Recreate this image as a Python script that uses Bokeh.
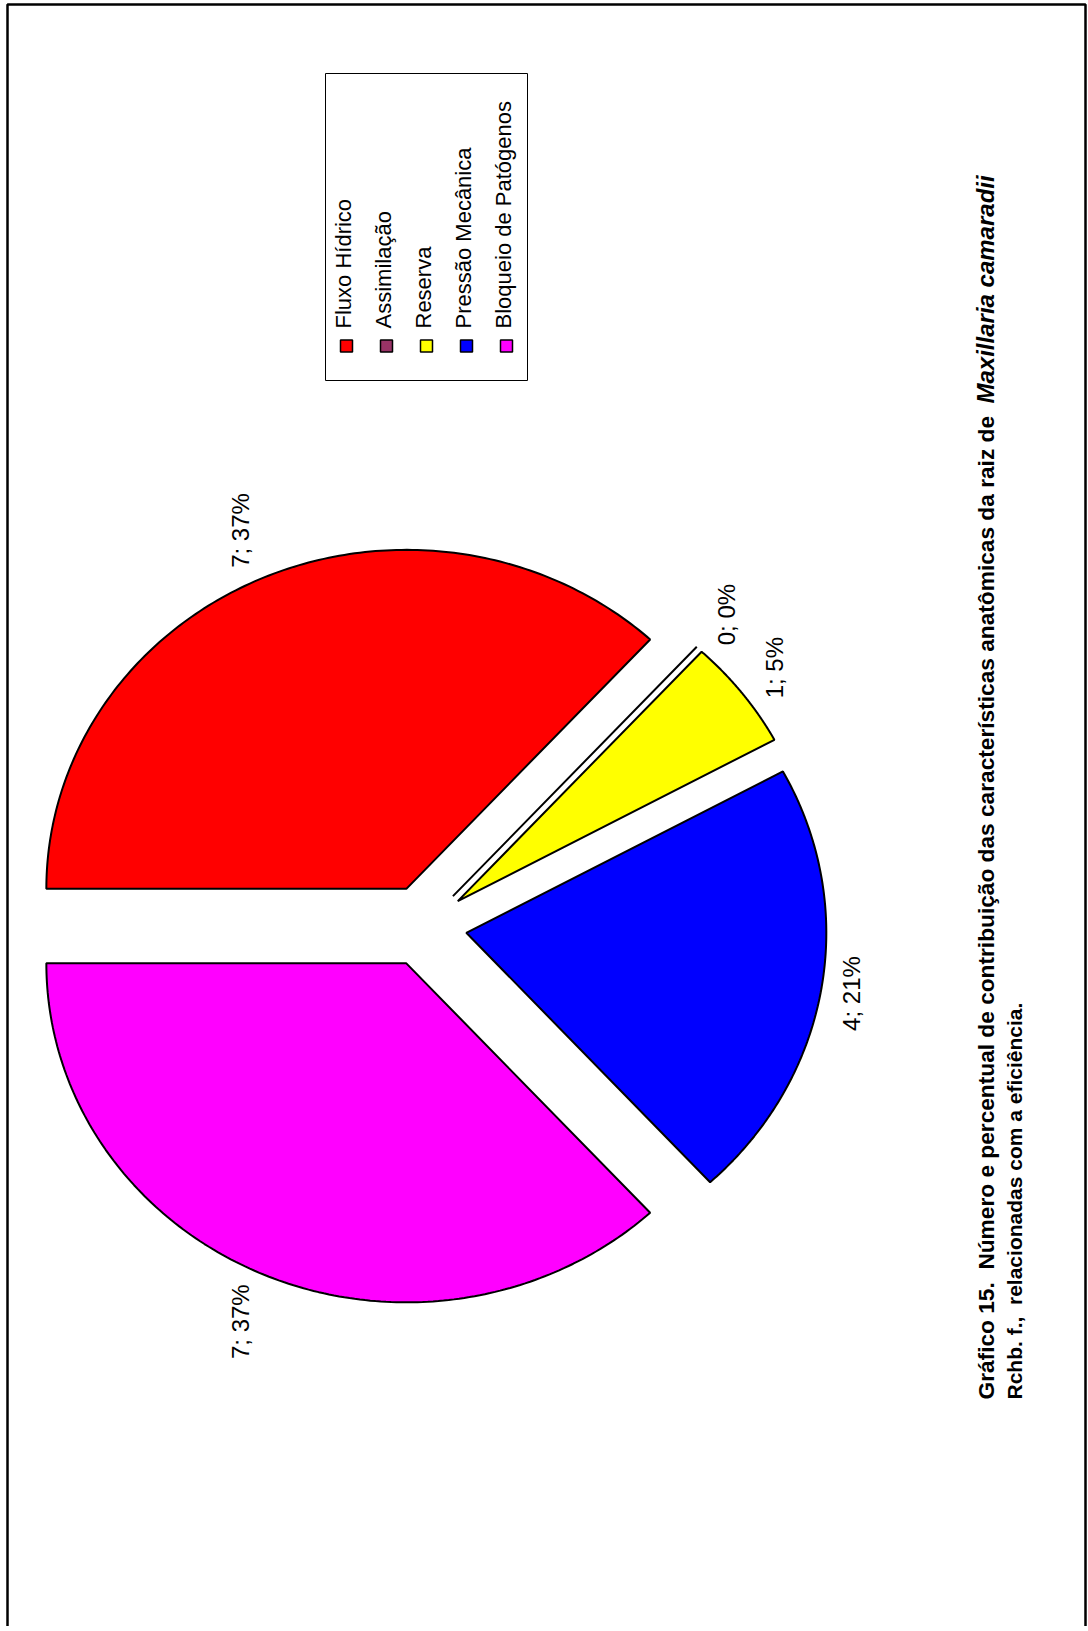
import math
import numpy as np
from bokeh.plotting import figure
from bokeh.models import Range1d
from bokeh.embed import file_html
from bokeh.resources import INLINE
from bokeh.core.properties import value

# ---------------- data ----------------
categories = ["Fluxo Hídrico", "Assimilação", "Reserva", "Pressão Mecânica", "Bloqueio de Patógenos"]
counts = [7, 0, 1, 4, 7]
colors = ["#FF0000", "#993366", "#FFFF00", "#0000FF", "#FF00FF"]
caption_line1 = "Gráfico 15. \u00a0Número e percentual de contribuição das características anatômicas da raiz de"
caption_species = "Maxillaria camaradii"
caption_line2 = "Rchb. f., \u00a0relacionadas com a eficiência."

total = sum(counts)
labels = [f"{c}; {round(100 * c / total)}%" for c in counts]

# ---------------- layout ----------------
W, H = 1088, 1626
FONT = value("Liberation Sans")
LABEL_PX = 24

p = figure(width=W, height=H, x_range=Range1d(0, W), y_range=Range1d(-H, 0),
           output_backend="svg", toolbar_location=None, min_border=0,
           x_axis_location=None, y_axis_location=None)
p.grid.visible = False
p.outline_line_color = None
p.background_fill_color = "white"
p.border_fill_color = "white"

# page border
p.quad(left=7, right=1085, top=-4, bottom=-1700, fill_color=None, line_color="black", line_width=2.5)

# pie geometry (page pixel coordinates, y negated)
cx, cy = 423.2, -925.6
rx, ry = 360.0, 339.0
explode = 0.12
gap = 14.0

xs_all, ys_all, lx, ly = [], [], [], []
start = 180.0
for c, lab in zip(counts, labels):
    sweep = 360.0 * c / total
    a0 = math.radians(start)
    a1 = math.radians(start - sweep)
    mid = (a0 + a1) / 2
    ux, uy = math.cos(mid), math.sin(mid)
    ox = cx + explode * rx * ux
    oy = cy + explode * ry * uy
    th = np.linspace(a0, a1, 160)
    xs_all.append([ox] + list(ox + rx * np.cos(th)))
    ys_all.append([oy] + list(oy + ry * np.sin(th)))
    # label box (rotated text): ~20px across, length along y
    half_w = 10.0
    half_h = 0.52 * LABEL_PX * len(lab) / 2
    d = gap + half_w * abs(ux) + half_h * abs(uy)
    lx.append(ox + rx * ux + d * ux)
    ly.append(oy + ry * uy + d * uy)
    start -= sweep

p.patches(xs=xs_all, ys=ys_all, fill_color=colors, line_color="black", line_width=2)

p.text(x=lx, y=ly, text=labels, angle=math.pi / 2, text_font=FONT, text_font_size=f"{LABEL_PX}px",
       text_align="center", text_baseline="middle", text_color="black")

# legend
p.quad(left=325, right=527, top=-73, bottom=-380, fill_color="white", line_color="black", line_width=1)
mx = [346 + 40 * i for i in range(len(categories))]
p.rect(x=mx, y=[-345.5] * len(mx), width=12, height=12, fill_color=colors,
       line_color="black", line_width=1.5)
p.text(x=[m - 3 for m in mx], y=[-328] * len(mx), text=categories, angle=math.pi / 2,
       text_font=FONT, text_font_size="22px", text_align="left", text_baseline="alphabetic",
       text_color="black")

# caption
p.text(x=[985], y=[-1399], text=[caption_line1], angle=math.pi / 2, text_font=FONT,
       text_font_size="22.7px", text_font_style="bold", text_align="left", text_baseline="alphabetic")
p.text(x=[985], y=[-403], text=[caption_species], angle=math.pi / 2, text_font=FONT,
       text_font_size="24px", text_font_style="bold italic", text_align="left", text_baseline="alphabetic")
p.text(x=[1014], y=[-1399], text=[caption_line2], angle=math.pi / 2, text_font=FONT,
       text_font_size="21px", text_font_style="bold", text_align="left", text_baseline="alphabetic")

open("out.html", "w").write(file_html(p, INLINE))
